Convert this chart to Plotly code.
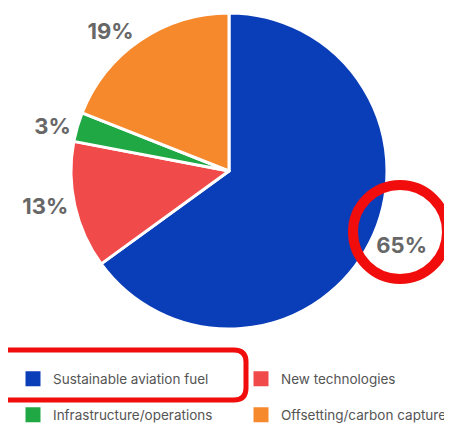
import plotly.graph_objects as go

categories = ["Sustainable aviation fuel", "New technologies", "Infrastructure/operations", "Offsetting/carbon capture"]
shares = [65, 13, 3, 19]
colors = ["#0A3DB8", "#F04A4A", "#20A845", "#F6892C"]

W, H = 452, 423
PAGE_OFF = 8  # default page body margin

def px(x):
    return (x - PAGE_OFF) / W

def py(y):
    return 1 - (y - PAGE_OFF) / H

fig = go.Figure()
fig.add_trace(go.Pie(
    labels=categories,
    values=shares,
    sort=False,
    direction="clockwise",
    rotation=0,
    marker=dict(colors=colors, line=dict(color="white", width=3)),
    texttemplate="%{value}%",
    textposition="outside",
    textfont=dict(family="Inter", size=22, color="#676767", weight="bold"),
    domain=dict(x=[px(71), px(387)], y=[py(330), py(12)]),
    hoverinfo="label+percent",
    showlegend=False,
))

# legend entries: two rows of two, one legend per row
for i, (name, col) in enumerate(zip(categories, colors)):
    fig.add_trace(go.Scatter(
        x=[None], y=[None], mode="markers", name=name,
        marker=dict(symbol="square", size=15, color=col),
        legend="legend" if i < 2 else "legend2",
        hoverinfo="skip",
    ))

# red highlight circle around 65%
cx, cy, r = 400, 232, 47
# red rounded rectangle around first legend item
x0, x1, y0, y1, rr = -6, 246, 350, 400, 12
rect_path = (
    f"M {px(x0+rr)},{py(y0)} L {px(x1-rr)},{py(y0)} "
    f"Q {px(x1)},{py(y0)} {px(x1)},{py(y0+rr)} "
    f"L {px(x1)},{py(y1-rr)} Q {px(x1)},{py(y1)} {px(x1-rr)},{py(y1)} "
    f"L {px(x0+rr)},{py(y1)} Q {px(x0)},{py(y1)} {px(x0)},{py(y1-rr)} "
    f"L {px(x0)},{py(y0+rr)} Q {px(x0)},{py(y0)} {px(x0+rr)},{py(y0)} Z"
)

legend_common = dict(
    orientation="h",
    xanchor="left", yanchor="middle",
    entrywidth=183, entrywidthmode="pixels",
    font=dict(family="Inter", size=13.5, color="#555555"),
    bgcolor="rgba(0,0,0,0)",
)

fig.update_layout(
    width=W, height=H,
    margin=dict(l=0, r=0, t=0, b=0, autoexpand=False),
    paper_bgcolor="white",
    plot_bgcolor="white",
    xaxis=dict(visible=False),
    yaxis=dict(visible=False),
    legend=dict(x=px(13), y=py(379), **legend_common),
    legend2=dict(x=px(13), y=py(415), **legend_common),
    shapes=[
        dict(type="circle", xref="paper", yref="paper",
             x0=px(cx - r), x1=px(cx + r), y0=py(cy + r), y1=py(cy - r),
             line=dict(color="#F20D0D", width=10)),
        dict(type="path", xref="paper", yref="paper", path=rect_path,
             line=dict(color="#F20D0D", width=5)),
    ],
)

fig.write_html("out.html")
